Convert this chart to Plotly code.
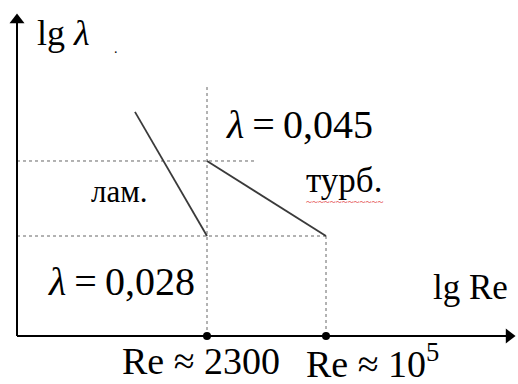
import math
import plotly.graph_objects as go

# ---- data (schematic, log-log: lg Re vs lg lambda) ----
re_points = [2300, 1e5]                 # characteristic Reynolds numbers
lam_values = [0.045, 0.028]             # friction factors at the breaks
lam_start_lgRe = 2.37                   # laminar segment start
lam_start_lglam = -1.212
re_tick_labels = ["Re ≈ 2300", "Re ≈ 10<sup>5</sup>"]
lam_labels = ["<i>λ</i>\u2009=\u20090,045", "<i>λ</i>\u2009=\u20090,028"]
regime_labels = ["лам.", "турб."]
axis_titles = ["lg <i>λ</i>", "lg Re"]

x_crit = math.log10(re_points[0])
x_turb = math.log10(re_points[1])
y_045 = math.log10(lam_values[0])
y_028 = math.log10(lam_values[1])

# axis geometry in data units
x_origin = 0.746
x_end = 7.52
y_origin = -1.8274
y_top = -0.9595
x_dot_end = 4.022
y_vert_top = -1.1436

W, H = 518, 384
FONT = "Liberation Serif, Times New Roman, serif"

fig = go.Figure()

dot = dict(color="#666666", width=1, dash="dot")
solid = dict(color="#3a3a3a", width=1.8)

# dotted guide lines
fig.add_trace(go.Scatter(x=[x_origin, x_dot_end], y=[y_045, y_045], mode="lines", line=dot))
fig.add_trace(go.Scatter(x=[x_origin, x_turb], y=[y_028, y_028], mode="lines", line=dot))
fig.add_trace(go.Scatter(x=[x_crit, x_crit], y=[y_vert_top, y_origin], mode="lines", line=dot))
fig.add_trace(go.Scatter(x=[x_turb, x_turb], y=[y_028, y_origin], mode="lines", line=dot))

# laminar and turbulent segments
fig.add_trace(go.Scatter(x=[lam_start_lgRe, x_crit], y=[lam_start_lglam, y_028], mode="lines", line=solid))
fig.add_trace(go.Scatter(x=[x_crit, x_turb], y=[y_045, y_028], mode="lines", line=solid))

# axes
axis_line = dict(color="black", width=2)
fig.add_trace(go.Scatter(x=[x_origin, x_origin], y=[y_origin, y_top], mode="lines", line=axis_line))
fig.add_trace(go.Scatter(x=[x_origin, x_end], y=[y_origin, y_origin], mode="lines", line=axis_line))
# arrow heads
fig.add_trace(go.Scatter(x=[x_origin], y=[y_top], mode="markers",
                         marker=dict(symbol="triangle-up", size=13, color="black")))
fig.add_trace(go.Scatter(x=[x_end], y=[y_origin], mode="markers",
                         marker=dict(symbol="triangle-right", size=13, color="black")))
# dots on x-axis
fig.add_trace(go.Scatter(x=[x_crit, x_turb], y=[y_origin, y_origin], mode="markers",
                         marker=dict(color="black", size=8)))


def txt(s, px, baseline, size, color="black"):
    # place text so that its baseline sits near the given pixel row
    py = baseline - 0.33 * size
    fig.add_annotation(x=px / W, y=1 - py / H, xref="paper", yref="paper", text=s,
                       showarrow=False, xanchor="center", yanchor="middle",
                       font=dict(family=FONT, size=size, color=color))


txt(axis_titles[0], 63, 45, 36)
txt(".", 116, 53, 14)
txt(lam_labels[0], 299, 138, 40)
txt(regime_labels[0], 119, 202, 31)
txt(regime_labels[1], 344, 192, 35)
txt("~~~~~~~~~~~~~", 344, 205, 11, color="#e03030")
txt(lam_labels[1], 121, 295, 40)
txt(axis_titles[1], 470, 299, 35)
txt(re_tick_labels[0], 201, 374, 38)
txt(re_tick_labels[1], 372, 374, 38)

fig.update_layout(
    width=W, height=H,
    margin=dict(l=0, r=0, t=0, b=0),
    paper_bgcolor="white", plot_bgcolor="white",
    showlegend=False,
    hovermode=False,
    xaxis=dict(range=[0.5120, 7.6432], visible=False, fixedrange=True),
    yaxis=dict(range=[-1.9593, -0.9046], visible=False, fixedrange=True),
)

fig.write_html("out.html", config={"displayModeBar": False},
               post_script="document.body.style.margin='0px';")
